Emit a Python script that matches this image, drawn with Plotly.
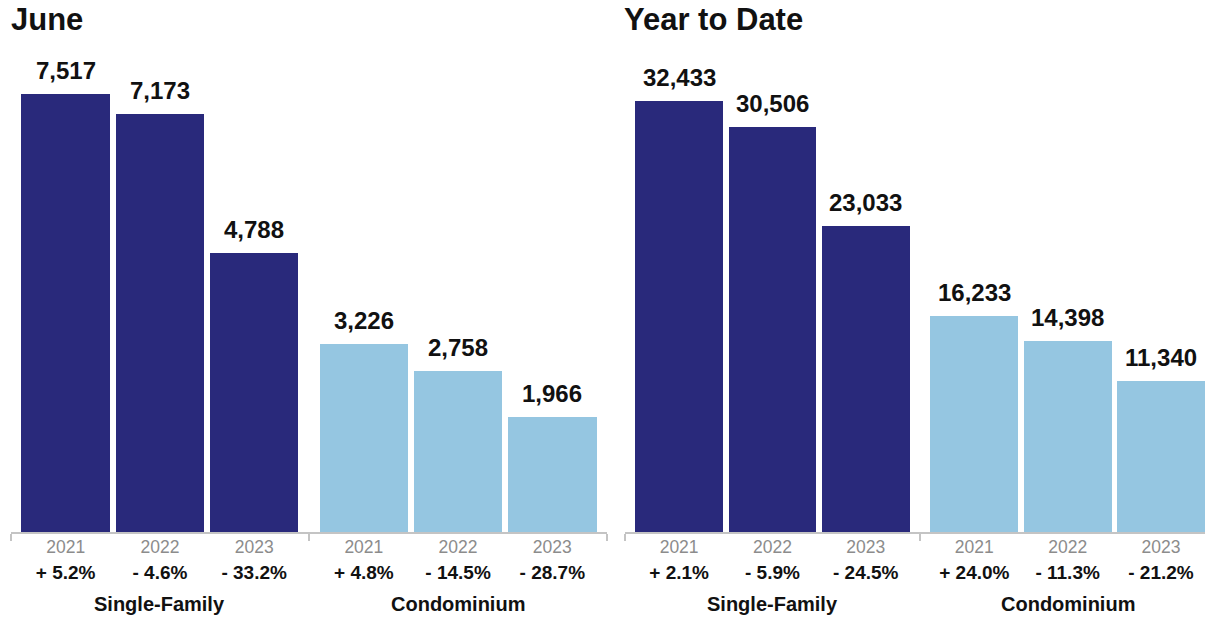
import plotly.graph_objects as go

# ---- data ----
years = ["2021", "2022", "2023"]
groups = ["Single-Family", "Condominium"]
panel_titles = ["June", "Year to Date"]

june_sf = [7517, 7173, 4788]
june_condo = [3226, 2758, 1966]
ytd_sf = [32433, 30506, 23033]
ytd_condo = [16233, 14398, 11340]

june_sf_pct = ["+ 5.2%", "- 4.6%", "- 33.2%"]
june_condo_pct = ["+ 4.8%", "- 14.5%", "- 28.7%"]
ytd_sf_pct = ["+ 2.1%", "- 5.9%", "- 24.5%"]
ytd_condo_pct = ["+ 24.0%", "- 11.3%", "- 21.2%"]

# ---- style ----
W, H = 1205, 618
NAVY = "#29297b"
LIGHT = "#95c6e1"
AXIS_GRAY = "#c4c4c4"
YEAR_GRAY = "#8c8c8c"
FONT = "Liberation Sans, Arial, Helvetica, sans-serif"

GAP = 0.164
pos_sf = [i for i in range(3)]
pos_co = [i + 3 + GAP for i in range(3)]
positions = pos_sf + pos_co
PAD = 0.58
boundaries = [-PAD, (pos_sf[-1] + pos_co[0]) / 2, pos_co[-1] + PAD]

base_px, top_px = 532, 40
y_dom = [1 - base_px / H, 1 - top_px / H]

panels = [
    dict(sf=june_sf, co=june_condo, sfp=june_sf_pct, cop=june_condo_pct,
         xdom=[11 / W, 607 / W], xr=[-PAD, pos_co[-1] + PAD], bar_top=94, title_x=9 / W),
    dict(sf=ytd_sf, co=ytd_condo, sfp=ytd_sf_pct, cop=ytd_condo_pct,
         xdom=[625 / W, 1.0], xr=[-PAD, pos_co[-1] + 0.472], bar_top=101, title_x=622 / W),
]

fig = go.Figure()
annotations = []
layout = dict(
    width=W, height=H, margin=dict(l=0, r=0, t=0, b=0),
    paper_bgcolor="white", plot_bgcolor="white", showlegend=False,
    bargap=0, font=dict(family=FONT),
)

for k, p in enumerate(panels):
    xa = "x" if k == 0 else "x2"
    ya = "y" if k == 0 else "y2"
    xkey = "xaxis" if k == 0 else "xaxis2"
    ykey = "yaxis" if k == 0 else "yaxis2"

    fig.add_trace(go.Bar(x=pos_sf, y=p["sf"], width=0.94, marker=dict(color=NAVY, line=dict(width=0)),
                         xaxis=xa, yaxis=ya, hoverinfo="y"))
    fig.add_trace(go.Bar(x=pos_co, y=p["co"], width=0.94, marker=dict(color=LIGHT, line=dict(width=0)),
                         xaxis=xa, yaxis=ya, hoverinfo="y"))

    vals = p["sf"] + p["co"]
    pcts = p["sfp"] + p["cop"]
    ymax = (base_px - top_px) * vals[0] / (base_px - p["bar_top"])

    ticktext = [
        f"<span style='font-size:17.5px;color:{YEAR_GRAY}'>{yr}</span><br>"
        f"<span style='font-size:19px;color:#111111'><b>{pc}</b></span>"
        for yr, pc in zip(years + years, pcts)
    ]
    layout[xkey] = dict(domain=p["xdom"], range=p["xr"], anchor=ya, tickmode="array",
                        tickvals=positions, ticktext=ticktext, ticks="",
                        showline=True, linecolor=AXIS_GRAY, linewidth=2,
                        minor=dict(tickmode="array", tickvals=boundaries, ticks="outside",
                                   ticklen=7, tickwidth=2, tickcolor=AXIS_GRAY, showgrid=False),
                        showgrid=False, zeroline=False, tickfont=dict(size=19.5, color=YEAR_GRAY),
                        ticklabelstandoff=-4, fixedrange=True)
    layout[ykey] = dict(domain=y_dom, range=[0, ymax], anchor=xa, visible=False, fixedrange=True)

    for x, v in zip(positions, vals):
        annotations.append(dict(x=x, y=v, xref=xa, yref=ya, text=f"<b>{v:,}</b>",
                                showarrow=False, yanchor="bottom", yshift=8,
                                font=dict(size=24, color="#111111", family=FONT)))
    for g, gp in zip(groups, [pos_sf, pos_co]):
        annotations.append(dict(x=sum(gp) / 3, y=1 - 604 / H, xref=xa, yref="paper",
                                text=f"<b>{g}</b>", showarrow=False, yanchor="middle",
                                font=dict(size=20, color="#111111", family=FONT)))
    annotations.append(dict(x=p["title_x"], y=1.0, xref="paper", yref="paper",
                            xanchor="left", yanchor="top", text=f"<b>{panel_titles[k]}</b>",
                            showarrow=False, font=dict(size=31, color="#111111", family=FONT)))

layout["annotations"] = annotations
fig.update_layout(**layout)
fig.write_html("out.html")
